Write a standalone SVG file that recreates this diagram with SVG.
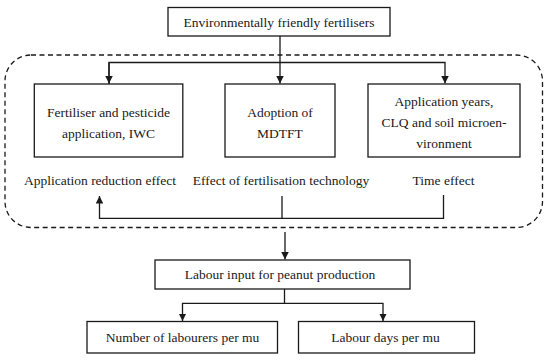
<svg xmlns="http://www.w3.org/2000/svg" width="550" height="360" viewBox="0 0 550 360">
<style>
.box{fill:#fff;stroke:#1a1a1a;stroke-width:1.3}
.t{font-size:13.5px;fill:#1a1a1a;text-anchor:middle}
.c{fill:none;stroke:#1a1a1a;stroke-width:1.3}
.dash{fill:none;stroke:#1a1a1a;stroke-width:1.3;stroke-dasharray:5,3.5}
</style>
<defs>
<marker id="ah" viewBox="0 0 10 10" refX="10" refY="5" markerWidth="7.5" markerHeight="7.5" markerUnits="userSpaceOnUse" orient="auto">
<path d="M0,0 L10,5 L0,10 z" fill="#1a1a1a"/>
</marker>
</defs>
<rect class="dash" x="5" y="55" width="537.5" height="172.5" rx="26" ry="26"/>
<g id="connectors">
<path class="c" d="M280,36 V83.5" marker-end="url(#ah)"/>
<path class="c" d="M109,84 V62.5 H445 V83.5" marker-end="url(#ah)"/>
<path class="c" d="M109,62.5 V83.5" marker-end="url(#ah)"/>
<path class="c" d="M443.5,195 V218.3 H99.5 V196" marker-end="url(#ah)"/>
<path class="c" d="M282,196 V218.3"/>
<path class="c" d="M285,232 V259.5" marker-end="url(#ah)"/>
<path class="c" d="M284.5,289 V303.3 H182.5 V321" marker-end="url(#ah)"/>
<path class="c" d="M284.5,303.3 H383 V321" marker-end="url(#ah)"/>
</g>
<g font-family="'Liberation Serif', 'DejaVu Serif', 'Times New Roman', serif">
<g id="n-top">
<rect class="box" x="168" y="7.5" width="222" height="28.5"/>
<text class="t" x="279" y="27">Environmentally friendly fertilisers</text>
</g>
<g id="n-fert">
<rect class="box" x="34.3" y="84" width="148.5" height="73"/>
<text class="t" x="108.5" y="116.5">Fertiliser and pesticide</text>
<text class="t" x="108.5" y="137.5">application, IWC</text>
</g>
<g id="n-adopt">
<rect class="box" x="225" y="84" width="110" height="73"/>
<text class="t" x="280" y="116.5">Adoption of</text>
<text class="t" x="280" y="137.5">MDTFT</text>
</g>
<g id="n-years">
<rect class="box" x="368" y="84" width="152" height="73"/>
<text class="t" x="444" y="105.5">Application years,</text>
<text class="t" x="444" y="126.5">CLQ and soil microen-</text>
<text class="t" x="444" y="147.5">vironment</text>
</g>
<g id="n-labels">
<text class="t" x="100" y="185">Application reduction effect</text>
<text class="t" x="281" y="185">Effect of fertilisation technology</text>
<text class="t" x="443.5" y="185">Time effect</text>
</g>
<g id="n-labour">
<rect class="box" x="155" y="260" width="255" height="29"/>
<text class="t" x="280" y="279">Labour input for peanut production</text>
</g>
<g id="n-number">
<rect class="box" x="87" y="321.5" width="190.5" height="31.5"/>
<text class="t" x="182.5" y="342">Number of labourers per mu</text>
</g>
<g id="n-days">
<rect class="box" x="298.5" y="321.5" width="176" height="31.5"/>
<text class="t" x="385.5" y="342">Labour days per mu</text>
</g>
</g>
</svg>
